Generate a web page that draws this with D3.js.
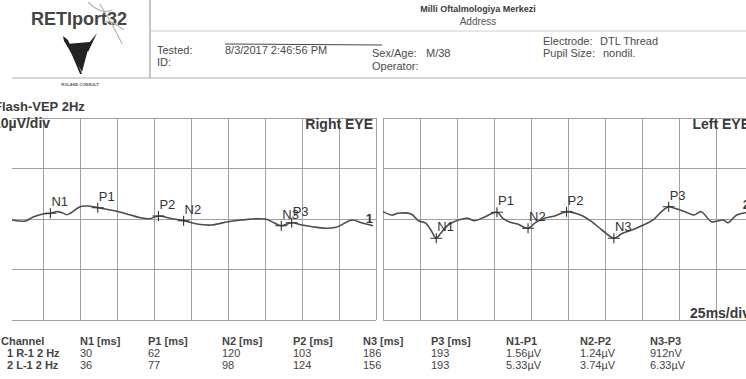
<!DOCTYPE html>
<html>
<head>
<meta charset="utf-8">
<script src="https://cdn.jsdelivr.net/npm/d3@7"></script>
<style>
  html, body { margin: 0; padding: 0; background: #fff; }
  svg { display: block; font-family: "Liberation Sans", Arial, sans-serif; }
</style>
</head>
<body>
<svg id="chart" width="746" height="379"></svg>
<script>
// trace samples (ms, µV)
const times1 = [4, 13, 18, 25, 30, 34, 38, 41, 44, 50, 55, 62, 68, 76, 84, 91, 97, 103, 111, 120,
  130, 139, 150, 159, 175, 181, 186, 193, 200, 207, 216, 223, 234, 240, 248];
const values1 = [-0.2, -0.4, 0.34, 1.0, 1.13, 1.45, 1.25, 0.85, 1.25, 2.44, 2.57, 2.24, 1.92, 1.45, 0.8, 0.26, 0.06, 0.6, 0.14, -0.34,
  -1.05, -1.19, -0.53, -0.2, 0, -0.73, -1.33, -0.73, -1.19, -1.52, -1.84, -1.64, -0.2, -0.73, -1.33];
const times2 = [0, 6, 10, 19, 24, 29, 33, 36, 39, 44, 51, 57, 62, 69, 77, 81, 86, 91, 98, 103,
  109, 116, 124, 130, 135, 141, 148, 156, 161, 168, 176, 183, 187, 193, 197, 204, 210, 215, 222, 230,
  233, 239, 245, 250];
const values2 = [1.45, 0.79, 1.13, 0.99, -0.34, -0.85, -2.51, -3.82, -2.83, -1.19, -0.2, 0.14, -0.34, 0.46, 1.33, 0.14, -0.65, -0.99, -1.84, -0.73,
  0.14, 0.59, 1.45, 1.13, 0.59, -0.53, -2.18, -3.82, -2.97, -2.18, -1.19, -0.06, 1.13, 2.44, 2.12, 1.45, 0.79, 1.45, -0.53, -0.2,
  -0.73, 0.79, 1.25, 1.4];

// peaks
const peakNames = ['N1', 'P1', 'N2', 'P2', 'N3', 'P3'];
const latency1 = [30, 62, 120, 103, 186, 193];
const latency2 = [36, 77, 98, 124, 156, 193];
const peakAmp1 = [1.13, 2.24, -0.34, 0.6, -1.33, -0.73];
const peakAmp2 = [-3.82, 1.33, -1.84, 1.45, -3.82, 2.44];

// results table
const channels = ['1 R-1 2 Hz', '2 L-1 2 Hz'];
const tableHead = ['N1 [ms]', 'P1 [ms]', 'N2 [ms]', 'P2 [ms]', 'N3 [ms]', 'P3 [ms]', 'N1-P1', 'N2-P2', 'N3-P3'];
const amps1 = ['1.56µV', '1.24µV', '912nV'];
const amps2 = ['5.33µV', '3.74µV', '6.33µV'];

const svg = d3.select('#chart');
const ink = '#3a3a3a';
const gridColor = '#a0a0a0';

// ---- header ----
svg.append('text').attr('x', 31).attr('y', 25)
  .attr('font-size', 18).attr('font-weight', 'bold').attr('fill', '#444').text('RETIport32');
// pencil scribble over the title
svg.append('path')
  .attr('d', 'M88,2 C96,10 104,14 112,10 M100,4 C108,18 116,30 122,44 M104,22 C112,20 118,26 124,30')
  .attr('fill', 'none').attr('stroke', '#b5b5b5').attr('stroke-width', 1.2);

// logo
const logo = svg.append('g').attr('fill', '#222');
logo.append('path').attr('d', 'M63,36 L68,40 L82,74 L80,74 L70,50 L64,41 Z');
logo.append('path').attr('d', 'M66,44 L90,42 L82,72 Z');
logo.append('path').attr('d', 'M97,33 L88,52 L85,48 Z');
svg.append('text').attr('x', 80).attr('y', 86).attr('text-anchor', 'middle')
  .attr('font-size', 4).attr('font-weight', 'bold').attr('fill', '#555').text('ROLAND CONSULT');

svg.append('line').attr('x1', 150).attr('x2', 150).attr('y1', 0).attr('y2', 78)
  .attr('stroke', '#888').attr('stroke-width', 1);
svg.append('line').attr('x1', 150).attr('x2', 746).attr('y1', 31).attr('y2', 31)
  .attr('stroke', '#ccc').attr('stroke-width', 1);
svg.append('line').attr('x1', 12).attr('x2', 746).attr('y1', 78).attr('y2', 78)
  .attr('stroke', '#aaa').attr('stroke-width', 1);
svg.append('line').attr('x1', 225).attr('x2', 382).attr('y1', 44).attr('y2', 45)
  .attr('stroke', '#444').attr('stroke-width', 1);

svg.append('text').attr('x', 478).attr('y', 12).attr('text-anchor', 'middle')
  .attr('font-size', 9).attr('font-weight', 'bold').attr('fill', ink).text('Milli Oftalmologiya Merkezi');
svg.append('text').attr('x', 478).attr('y', 25).attr('text-anchor', 'middle')
  .attr('font-size', 10).attr('fill', '#555').text('Address');

const headInfo = [
  ['Tested:', 157, 54], ['8/3/2017 2:46:56 PM', 225, 54], ['ID:', 157, 66],
  ['Sex/Age:', 372, 57], ['M/38', 426, 57], ['Operator:', 372, 70],
  ['Electrode:', 543, 45], ['DTL Thread', 600, 45], ['Pupil Size:', 543, 57], ['nondil.', 603, 57]
];
svg.append('g').selectAll('text').data(headInfo).join('text')
  .attr('x', d => d[1]).attr('y', d => d[2])
  .attr('font-size', 11).attr('fill', '#4a4a4a').text(d => d[0]);

svg.append('text').attr('x', -6).attr('y', 111)
  .attr('font-size', 13).attr('font-weight', 'bold').attr('fill', ink).text('Flash-VEP 2Hz');

// ---- panels ----
const y = d3.scaleLinear().domain([-20, 20]).range([320, 118]);
const panels = [
  { x0: 6, x1: 376, clipLeft: 12, times: times1, values: values1, lat: latency1, amp: peakAmp1, tag: '1', title: 'Right EYE' },
  { x0: 383, x1: 753, clipLeft: 383, times: times2, values: values2, lat: latency2, amp: peakAmp2, tag: '2', title: 'Left EYE' }
];

const defs = svg.append('defs');
panels.forEach((p, i) => {
  const x = d3.scaleLinear().domain([0, 250]).range([p.x0, p.x1]);
  defs.append('clipPath').attr('id', 'clip' + i).append('rect')
    .attr('x', p.clipLeft).attr('y', 100).attr('width', p.x1 - p.clipLeft + 1).attr('height', 230);
  const g = svg.append('g').attr('clip-path', `url(#clip${i})`);

  g.append('g').selectAll('line').data(d3.range(0, 251, 25)).join('line')
    .attr('x1', d => x(d)).attr('x2', d => x(d)).attr('y1', y(20)).attr('y2', y(-20))
    .attr('stroke', gridColor).attr('stroke-width', 1).attr('shape-rendering', 'crispEdges');
  g.append('g').selectAll('line').data(d3.range(-20, 21, 10)).join('line')
    .attr('x1', x(0)).attr('x2', x(250)).attr('y1', d => y(d)).attr('y2', d => y(d))
    .attr('stroke', gridColor).attr('stroke-width', 1).attr('shape-rendering', 'crispEdges');

  const pts = p.times.map((t, k) => [t, p.values[k]]);
  const line = d3.line().x(d => x(d[0])).y(d => y(d[1])).curve(d3.curveCatmullRom.alpha(0.5));
  g.append('path').datum(pts).attr('d', line)
    .attr('fill', 'none').attr('stroke', '#4d4d4d').attr('stroke-width', 1.6);

  // peak crosses and names
  const peaks = peakNames.map((n, k) => ({ name: n, t: p.lat[k], v: p.amp[k] }));
  const mk = g.append('g').selectAll('g').data(peaks).join('g')
    .attr('transform', d => `translate(${x(d.t)},${y(d.v)})`);
  mk.append('path').attr('d', 'M-6,0H6M0,-5V5').attr('stroke', '#333').attr('stroke-width', 1.1);
  mk.append('text').attr('x', 1).attr('y', -7)
    .attr('font-size', 13).attr('fill', '#333').text(d => d.name);

  const last = pts[pts.length - 1];
  g.append('text').attr('x', x(243)).attr('y', y(last[1]) - 3)
    .attr('font-size', 13).attr('font-weight', 'bold').attr('fill', '#333').text(p.tag);

  svg.append('text').attr('x', i === 0 ? 373 : 750).attr('y', 129).attr('text-anchor', 'end')
    .attr('font-size', 14).attr('font-weight', 'bold').attr('fill', ink).text(p.title);
});

svg.append('text').attr('x', -7).attr('y', 128)
  .attr('font-size', 14).attr('font-weight', 'bold').attr('fill', ink).text('10µV/div');
svg.append('text').attr('x', 750).attr('y', 318).attr('text-anchor', 'end')
  .attr('font-size', 14).attr('font-weight', 'bold').attr('fill', ink).text('25ms/div');

// ---- results table ----
const colX = [80, 148, 222, 293, 363, 431, 506, 580, 650];
const rows = [latency1.concat(amps1), latency2.concat(amps2)];
const tbl = svg.append('g').attr('font-size', 11).attr('fill', '#444');
tbl.append('text').attr('x', 1).attr('y', 345).attr('font-weight', 'bold').text('Channel');
tbl.selectAll('.hd').data(tableHead).join('text').attr('class', 'hd')
  .attr('x', (d, k) => colX[k]).attr('y', 345).attr('font-weight', 'bold').text(d => d);
rows.forEach((r, ri) => {
  const yy = 357 + ri * 12;
  tbl.append('text').attr('x', 7).attr('y', yy).attr('font-weight', 'bold').text(channels[ri]);
  tbl.append('g').selectAll('text').data(r).join('text')
    .attr('x', (d, k) => colX[k]).attr('y', yy).text(d => d);
});
</script>
</body>
</html>
